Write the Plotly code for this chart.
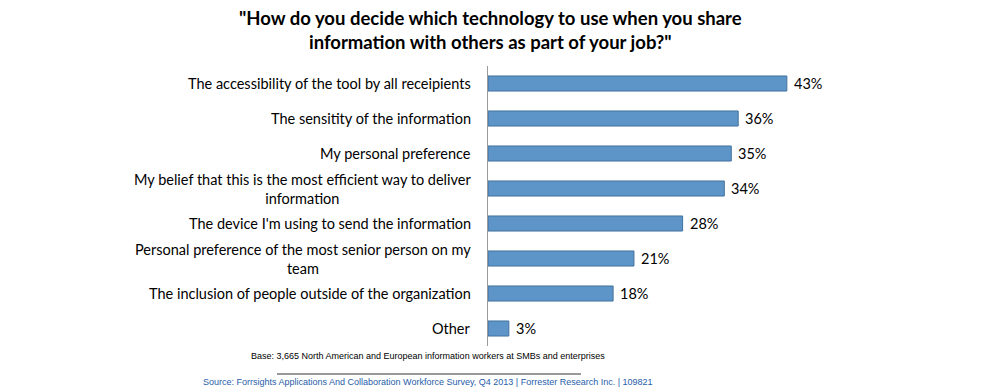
import plotly.graph_objects as go

categories = [
    "The accessibility of the tool by all receipients",
    "The sensitity of the information",
    "My personal preference",
    "My belief that this is the most efficient way to deliver<br>information",
    "The device I'm using to send the information",
    "Personal preference of the most senior person on my<br>team",
    "The inclusion of people outside of the organization",
    "Other",
]
values = [43, 36, 35, 34, 28, 21, 18, 3]
value_labels = ["43%", "36%", "35%", "34%", "28%", "21%", "18%", "3%"]

title_text = '"How do you decide which technology to use when you share<br>information with others as part of your job?"'
base_text = "Base: 3,665 North American and European information workers at SMBs and enterprises"
source_text = "Source: Forrsights Applications And Collaboration Workforce Survey, Q4 2013 | Forrester Research Inc. | 109821"

W, H = 1000, 390
ML, MT, MB = 488, 66, 44
MR = 95
PW = W - ML - MR
PH = H - MT - MB

FONT = "Lato, 'Liberation Sans', sans-serif"


def px_x(x):
    return (x - ML) / PW


def px_y(y):
    return (H - MB - y) / PH


fig = go.Figure()
fig.add_trace(go.Bar(
    x=values,
    y=categories,
    orientation="h",
    marker=dict(color="#5E95C9", line=dict(color="#41719C", width=1)),
    hoverinfo="skip",
))

for cat, v, lab in zip(categories, values, value_labels):
    fig.add_annotation(
        x=0, y=cat, xref="x", yref="y",
        text=cat, showarrow=False,
        xanchor="right", yanchor="middle", align="center",
        xshift=-15,
        font=dict(family=FONT, size=14.5, color="#000000"),
    )
    fig.add_annotation(
        x=v, y=cat, xref="x", yref="y",
        text=lab, showarrow=False,
        xanchor="left", yanchor="middle",
        xshift=5,
        font=dict(family=FONT, size=14.5, color="#000000"),
    )

fig.add_annotation(
    x=px_x(490), y=px_y(30),
    xref="paper", yref="paper", text="<b>" + title_text + "</b>", showarrow=False,
    xanchor="center", yanchor="middle", align="center",
    font=dict(family=FONT, size=18.5, color="#000000"),
)
fig.add_annotation(
    x=px_x(428), y=px_y(356),
    xref="paper", yref="paper", text=base_text, showarrow=False,
    xanchor="center", yanchor="middle",
    font=dict(family="'Liberation Sans', sans-serif", size=9, color="#000000"),
)
fig.add_annotation(
    x=px_x(428), y=px_y(382),
    xref="paper", yref="paper", text=source_text, showarrow=False,
    xanchor="center", yanchor="middle",
    font=dict(family="'Liberation Sans', sans-serif", size=9, color="#1F5DAA"),
)
fig.add_shape(
    type="line", xref="paper", yref="paper",
    x0=px_x(277), x1=px_x(581),
    y0=px_y(374), y1=px_y(374),
    line=dict(color="#333333", width=1),
)

fig.update_layout(
    width=W, height=H,
    margin=dict(l=ML, r=MR, t=MT, b=MB, autoexpand=False),
    paper_bgcolor="white", plot_bgcolor="white",
    showlegend=False,
    bargap=0.57,
    xaxis=dict(range=[0, 60], visible=False, fixedrange=True),
    yaxis=dict(
        autorange="reversed", showticklabels=False, ticks="",
        showgrid=False, zeroline=False, fixedrange=True,
        showline=True, linecolor="#9a9a9a", linewidth=1,
    ),
)

fig.write_html("out.html", config={"displayModeBar": False},
               post_script="document.body.style.margin='0';")
